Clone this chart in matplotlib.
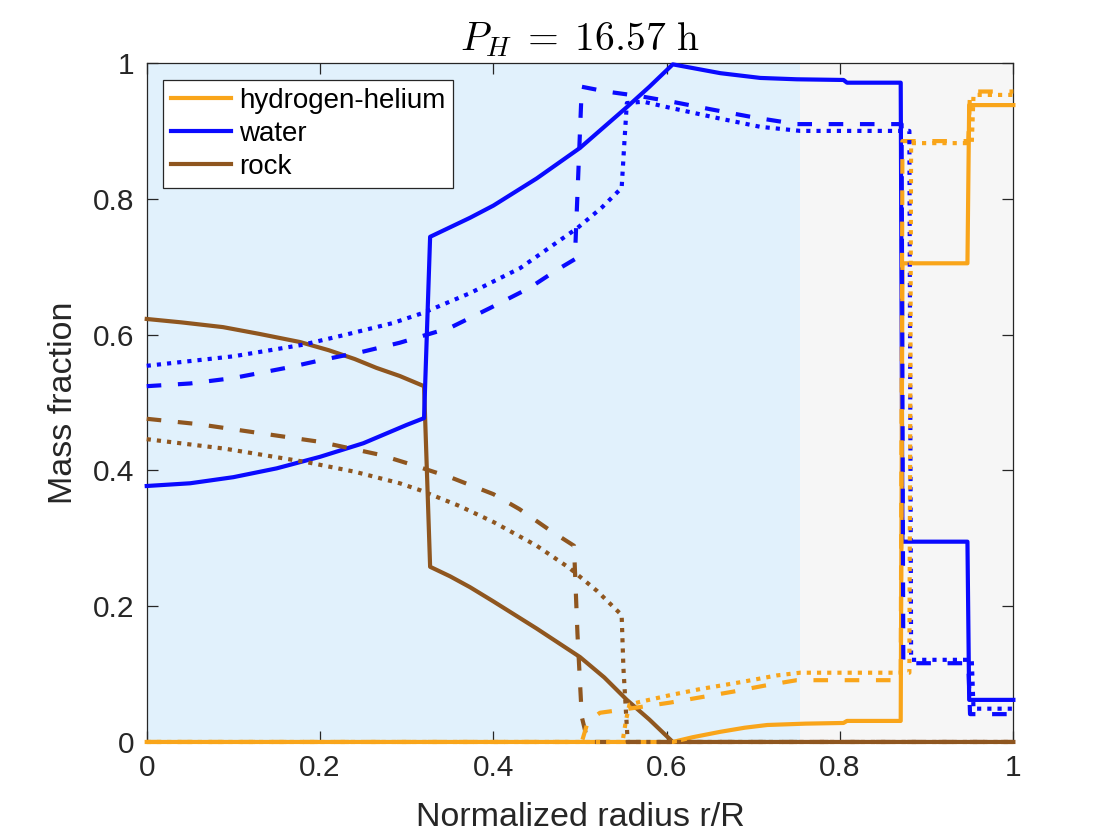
import numpy as np
import matplotlib
matplotlib.use("Agg")
import matplotlib.pyplot as plt
from matplotlib.ticker import FuncFormatter

plt.rcParams['font.family'] = ['Liberation Sans', 'DejaVu Sans']
plt.rcParams['mathtext.fontset'] = 'cm'

# --- data (x = r/R, y = mass fraction) ---
# water
water_solid_x = [0.0, 0.05, 0.1, 0.15, 0.2, 0.25, 0.3, 0.32, 0.327, 0.35, 0.373, 0.4, 0.45, 0.5,
                 0.554, 0.58, 0.607, 0.662, 0.708, 0.75, 0.804, 0.808, 0.870, 0.872, 0.947, 0.949, 1.0]
water_solid_y = [0.377, 0.381, 0.39, 0.403, 0.42, 0.44, 0.467, 0.477, 0.744, 0.758, 0.772, 0.79, 0.83, 0.875,
                 0.935, 0.965, 0.998, 0.985, 0.978, 0.976, 0.975, 0.971, 0.971, 0.295, 0.295, 0.062, 0.062]

water_dash_x = [0.0, 0.05, 0.1, 0.165, 0.2, 0.25, 0.292, 0.35, 0.396, 0.442, 0.473, 0.494, 0.502,
                0.53, 0.57, 0.61, 0.65, 0.7, 0.75, 0.871, 0.873, 0.948, 0.950, 1.0]
water_dash_y = [0.524, 0.528, 0.536, 0.552, 0.562, 0.575, 0.588, 0.61, 0.639, 0.669, 0.695, 0.711, 0.965,
                0.958, 0.951, 0.942, 0.932, 0.92, 0.91, 0.91, 0.116, 0.116, 0.041, 0.041]

water_dot_x = [0.0, 0.1, 0.18, 0.23, 0.284, 0.319, 0.373, 0.431, 0.497, 0.525, 0.548, 0.551, 0.554,
               0.573, 0.604, 0.662, 0.708, 0.754, 0.880, 0.882, 0.952, 0.954, 1.0]
water_dot_y = [0.554, 0.568, 0.585, 0.6, 0.617, 0.632, 0.661, 0.698, 0.757, 0.787, 0.816, 0.88, 0.941,
               0.943, 0.934, 0.918, 0.906, 0.90, 0.90, 0.121, 0.121, 0.049, 0.049]

# rock
rock_solid_x = [0.0, 0.04, 0.088, 0.13, 0.177, 0.21, 0.24, 0.265, 0.292, 0.32, 0.327, 0.35, 0.373,
                0.4, 0.45, 0.5, 0.528, 0.554, 0.58, 0.607, 1.0]
rock_solid_y = [0.623, 0.618, 0.611, 0.601, 0.589, 0.577, 0.564, 0.551, 0.539, 0.524, 0.258, 0.244, 0.228,
                0.207, 0.167, 0.125, 0.095, 0.062, 0.033, 0.0, 0.0]

rock_dash_x = [0.0, 0.06, 0.119, 0.2, 0.269, 0.307, 0.35, 0.4, 0.43, 0.465, 0.493, 0.497, 0.502,
               0.509, 1.0]
rock_dash_y = [0.476, 0.468, 0.457, 0.442, 0.423, 0.408, 0.39, 0.365, 0.343, 0.312, 0.289, 0.16, 0.037,
               0.0, 0.0]

rock_dot_x = [0.0, 0.09, 0.185, 0.24, 0.292, 0.315, 0.36, 0.4, 0.45, 0.488, 0.52, 0.548, 0.55,
              0.555, 1.0]
rock_dot_y = [0.446, 0.432, 0.412, 0.398, 0.381, 0.371, 0.348, 0.324, 0.289, 0.256, 0.222, 0.187, 0.11,
              0.0, 0.0]

# hydrogen-helium
hhe_solid_x = [0.0, 0.607, 0.63, 0.662, 0.69, 0.716, 0.76, 0.804, 0.808, 0.870, 0.872, 0.947, 0.949, 1.0]
hhe_solid_y = [0.0, 0.0, 0.007, 0.015, 0.021, 0.025, 0.027, 0.028, 0.031, 0.031, 0.705, 0.705, 0.938, 0.938]

hhe_dash_x = [0.0, 0.502, 0.509, 0.523, 0.54, 0.567, 0.604, 0.64, 0.676, 0.713, 0.75, 0.870, 0.872,
              0.948, 0.950, 1.0]
hhe_dash_y = [0.0, 0.0, 0.03, 0.043, 0.046, 0.051, 0.058, 0.066, 0.074, 0.083, 0.091, 0.091, 0.885,
              0.885, 0.958, 0.958]

hhe_dot_x = [0.0, 0.549, 0.553, 0.557, 0.569, 0.604, 0.639, 0.685, 0.727, 0.754, 0.880, 0.882,
             0.952, 0.954, 1.0]
hhe_dot_y = [0.0, 0.0, 0.032, 0.055, 0.059, 0.069, 0.078, 0.088, 0.098, 0.102, 0.102, 0.882,
             0.882, 0.953, 0.953]

x_ticks = [0, 0.2, 0.4, 0.6, 0.8, 1]
y_ticks = [0, 0.2, 0.4, 0.6, 0.8, 1]
shade_edge = 0.754

c_hhe = '#f9a51a'
c_water = '#0a0aff'
c_rock = '#8f561f'
lw = 3.0

fig = plt.figure(figsize=(11.2, 8.4), dpi=100)
ax = fig.add_axes([0.131, 0.1167, 0.7738, 0.8083])

ax.axvspan(0, shade_edge, color='#e1f1fc', zorder=0, lw=0)
ax.axvspan(shade_edge, 1, color='#f6f6f6', zorder=0, lw=0)

dash = (3.5, 4.0)
dot = (1.0, 1.45)
groups = [
    ('-', None, hhe_solid_x, hhe_solid_y, water_solid_x, water_solid_y, rock_solid_x, rock_solid_y),
    ('--', dash, hhe_dash_x, hhe_dash_y, water_dash_x, water_dash_y, rock_dash_x, rock_dash_y),
    (':', dot, hhe_dot_x, hhe_dot_y, water_dot_x, water_dot_y, rock_dot_x, rock_dot_y),
]
for ls, dashes, hx, hy, wx, wy, rx, ry in groups:
    for xx, yy, c in [(rx, ry, c_rock), (wx, wy, c_water), (hx, hy, c_hhe)]:
        line, = ax.plot(xx, yy, ls, color=c, lw=lw, clip_on=False, zorder=3)
        if dashes is not None:
            line.set_dashes(dashes)

# legend with solid handles only
handles = [plt.Line2D([], [], color=c_hhe, lw=lw), plt.Line2D([], [], color=c_water, lw=lw),
           plt.Line2D([], [], color=c_rock, lw=lw)]
leg = ax.legend(handles, ['hydrogen-helium', 'water', 'rock'], loc='upper left',
                bbox_to_anchor=(0.019, 0.975), borderaxespad=0, fontsize=20, fancybox=False,
                framealpha=1, edgecolor='#262626', handlelength=2.15, handletextpad=0.3,
                labelspacing=0.26, borderpad=0.28)
leg.get_frame().set_linewidth(0.9)
leg.set_zorder(6)

ax.set_xlim(0, 1)
ax.set_ylim(0, 1)
ax.set_xticks(x_ticks)
ax.set_yticks(y_ticks)
fmt = FuncFormatter(lambda v, p: '%g' % v)
ax.xaxis.set_major_formatter(fmt)
ax.yaxis.set_major_formatter(fmt)
ax.tick_params(direction='in', length=8, width=0.9, top=True, right=True, labelsize=21.5,
               colors='#262626', pad=9)
for s in ax.spines.values():
    s.set_color('#262626')
    s.set_linewidth(0.9)
    s.set_zorder(2.5)

ax.set_xlabel('Normalized radius r/R', fontsize=24.5, color='#262626', labelpad=14)
ax.set_ylabel('Mass fraction', fontsize=24.5, color='#262626', labelpad=10)
ax.set_title(r'$P_H\;=\;16.57\ \mathrm{h}$', fontsize=28.5, pad=9)

fig.savefig('out.png', dpi=100, facecolor='white')
